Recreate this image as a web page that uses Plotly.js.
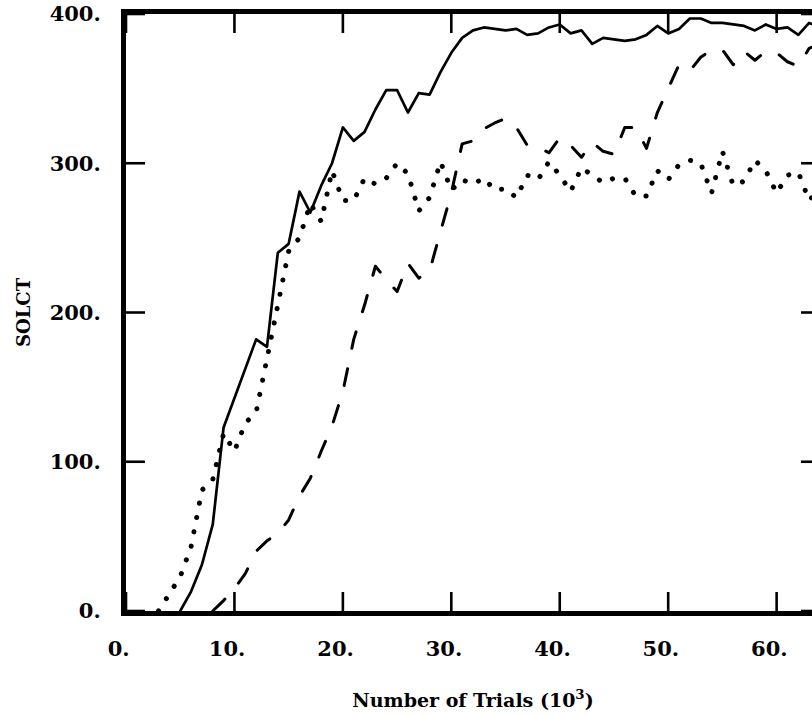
<!DOCTYPE html>
<html>
<head>
<meta charset="utf-8">
<script src="https://cdn.plot.ly/plotly-3.0.1.min.js"></script>
<style>
  html, body { margin: 0; padding: 0; background: #fff; overflow: hidden; }
  #chart { width: 830px; height: 715px; }
  .js-line { stroke-linecap: round; stroke-linejoin: round; }
</style>
</head>
<body>
<div id="chart"></div>
<script>
// Number of trials (thousands)
const solidX  = [5,6,7,8,9,10,11,12,13,14,15,16,17,18,19,20,21,22,23,24,25,26,27,28,29,30,31,32,33,34,35,36,37,38,39,40,41,42,43,44,45,46,47,48,49,50,51,52,53,54,55,56,57,58,59,60,61,62,63,64];
const solidY  = [0,13,31,58,123,143,162,182,177,240,246,281,267,285,300,324,315,321,336,349,349,334,347,346,361,374,384,389,391,390,389,390,386,387,391,393,387,389,380,384,383,382,383,386,392,387,390,397,397,394,394,393,392,389,393,390,391,386,394,391];

const dottedX = [3,4,5,6,7,8,9,10,11,12,13,14,15,16,17,18,19,20,21,22,23,24,25,26,27,28,29,30,31,32,33,34,35,36,37,38,39,40,41,42,43,44,45,46,47,48,49,50,51,52,53,54,55,56,57,58,59,60,61,62,63,64];
const dottedY = [0,12,23,43,81,88,119,107,126,133,170,208,241,250,273,261,295,275,275,290,286,290,300,293,268,277,301,282,289,286,290,282,283,277,292,289,301,292,281,297,292,287,290,290,278,278,295,289,299,302,300,280,308,285,288,302,295,280,292,294,275,283];

const dashedX = [8,9,10,11,12,13,14,15,16,17,18,19,20,21,22,23,24,25,26,27,28,29,30,31,32,33,34,35,36,37,38,39,40,41,42,43,44,45,46,47,48,49,50,51,52,53,54,55,56,57,58,59,60,61,62,63,64];
const dashedY = [0,7,15,25,40,47,52,61,77,89,107,124,147,182,205,231,222,214,233,223,228,254,280,313,315,323,327,330,324,312,311,307,317,312,304,314,308,306,324,324,310,334,350,366,362,371,376,376,366,375,369,375,374,368,365,377,380];

const xTickVals = [0,10,20,30,40,50,60];
const xTickText = ["0.","10.","20.","30.","40.","50.","60."];
const yTickVals = [0,100,200,300,400];
const yTickText = ["0.","100.","200.","300.","400."];

const xRange = [0, 64];
const yRange = [0, 400];

const serif = "DejaVu Serif";
const pad = "\u00a0\u00a0";
const tickFont = { family: serif, size: 21, weight: 700, color: "#000" };

const traces = [
  { x: solidX, y: solidY, mode: "lines", line: { color: "#000", width: 2.7 }, showlegend: false, hoverinfo: "skip" },
  { x: dottedX, y: dottedY, mode: "lines", line: { color: "#000", width: 5, dash: "0.1px,14.5px" }, showlegend: false, hoverinfo: "skip" },
  { x: dashedX, y: dashedY, mode: "lines", line: { color: "#000", width: 3, dash: "17px,21px" }, showlegend: false, hoverinfo: "skip" }
];

// inward tick marks on all four sides of the frame, placed at the tick values
const tickLine = { color: "#000", width: 2.6 };
const tickLen = 19;
const tickShapes = [];
xTickVals.forEach(v => {
  tickShapes.push({ type: "line", layer: "above", xref: "x", yref: "paper", ysizemode: "pixel", yanchor: 0, x0: v, x1: v, y0: 0, y1: tickLen, line: tickLine });
  tickShapes.push({ type: "line", layer: "above", xref: "x", yref: "paper", ysizemode: "pixel", yanchor: 1, x0: v, x1: v, y0: 0, y1: -tickLen, line: tickLine });
});
yTickVals.forEach(v => {
  tickShapes.push({ type: "line", layer: "above", xref: "paper", yref: "y", xsizemode: "pixel", xanchor: 0, y0: v, y1: v, x0: 0, x1: tickLen, line: tickLine });
  tickShapes.push({ type: "line", layer: "above", xref: "paper", yref: "y", xsizemode: "pixel", xanchor: 1, y0: v, y1: v, x0: 0, x1: -tickLen, line: tickLine });
});

const layout = {
  width: 830,
  height: 715,
  margin: { l: 126, r: 10, t: 14, b: 104 },
  paper_bgcolor: "#fff",
  plot_bgcolor: "#fff",
  font: { family: serif, color: "#000" },
  shapes: tickShapes,
  xaxis: {
    range: xRange,
    showgrid: false,
    zeroline: false,
    showline: true,
    linewidth: 5,
    linecolor: "#000",
    mirror: true,
    ticks: "outside",
    ticklen: 15,
    tickcolor: "rgba(0,0,0,0)",
    tickvals: xTickVals,
    ticktext: xTickText.map(t => t + pad),
    tickfont: tickFont,
    title: { text: "Number of Trials (10<sup>3</sup>)", font: { family: serif, size: 19, weight: 700, color: "#000" }, standoff: 35 },
    automargin: false
  },
  yaxis: {
    range: yRange,
    showgrid: false,
    zeroline: false,
    showline: true,
    linewidth: 5,
    linecolor: "#000",
    mirror: true,
    ticks: "outside",
    ticklen: 16,
    tickcolor: "rgba(0,0,0,0)",
    tickvals: yTickVals,
    ticktext: yTickText,
    tickfont: tickFont,
    title: { text: "SOLCT", font: { family: serif, size: 18, weight: 700, color: "#000" }, standoff: 16 },
    automargin: false
  }
};

Plotly.newPlot("chart", traces, layout, { staticPlot: true, displayModeBar: false });
</script>
</body>
</html>
